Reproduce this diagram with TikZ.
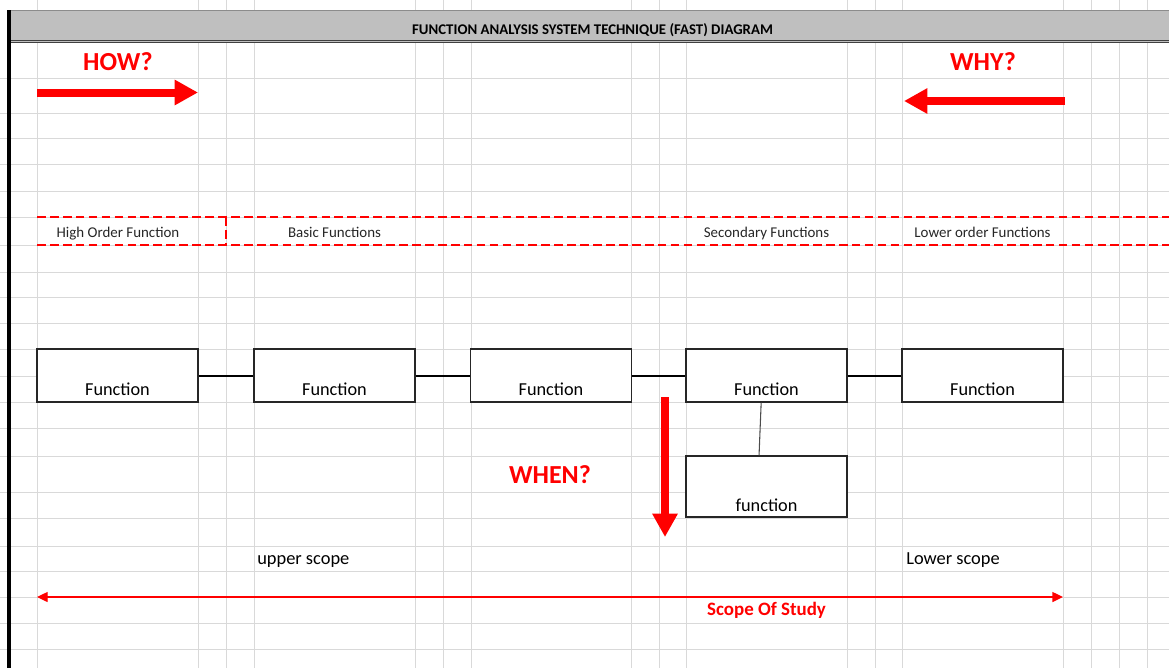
\documentclass[tikz,border=0pt]{standalone}
\usepackage{fontspec}
\setmainfont{Carlito}
\usetikzlibrary{arrows.meta}
\newcommand\fsz[1]{\fontsize{#1}{#1}\selectfont}
\tikzset{
	gridline/.style={draw=black!15, line width=0.75pt},
	funcbox/.style={draw=black!85, fill=white, line width=0.8pt, minimum width=120.75pt, inner xsep=0pt, inner ysep=0pt, text height=34.5pt, text depth=5.25pt, font=\fsz{13.7pt}},
	link/.style={line width=1.5pt},
	bandline/.style={red, line width=1.5pt, dash pattern=on 6.5pt off 3.2pt},
	bandtext/.style={text=black!85, font=\fsz{11.2pt}, anchor=base},
	bigword/.style={text=red, font=\bfseries\fsz{19.5pt}},
	bigarrow/.style={red, line width=6pt, -{Triangle[length=17.5pt, width=18pt]}},
	scopearrow/.style={red, line width=1pt, {Triangle[length=8pt, width=7.5pt]}-{Triangle[length=8pt, width=7.5pt]}},
	scopetext/.style={font=\fsz{13.8pt}, anchor=base west, inner sep=0pt}
}

\begin{document}
\begin{tikzpicture}[x=0.75pt, y=-0.75pt]
			%%%%% START %%%%%
			\useasboundingbox (0,0) rectangle (1169,668);
			
			% sheet grid
			\foreach \gx in {37,198,226,254,415,443,471,631,659,686,847,875,902,1063,1091,1119,1147}
				\draw[gridline] (\gx,0) -- (\gx,668);
			\foreach \gy in {78,113,138,164,191,217,245,272,297,323,349,376,402,428,456,492,518,546,571,597,623,649}
				\draw[gridline] (0,\gy) -- (1169,\gy);
			
			% title bar
			\fill[black!25] (10,10) rectangle (1169,42);
			\draw[black!45, line width=0.75pt] (10,10) -- (1169,10);
			\draw[black!75, line width=0.8pt] (10,40.3) -- (1169,40.3);
			\draw[black!75, line width=0.8pt] (10,42.7) -- (1169,42.7);
			\node[font=\bfseries\fsz{11.1pt}] (title) at (592.5,30.5) {FUNCTION ANALYSIS SYSTEM TECHNIQUE (FAST) DIAGRAM};
			\draw[line width=2.8pt] (9,10) -- (9,668);
			
			% how / why
			\node[bigword] (how) at (118,62) {HOW?};
			\coordinate (howA) at (37,92.5);
			\coordinate (howB) at (198,92.5);
			\draw[bigarrow] (howA) -- (howB);
			
			\node[bigword] (why) at (983,62) {WHY?};
			\coordinate (whyA) at (1065,101);
			\coordinate (whyB) at (904,101);
			\draw[bigarrow] (whyA) -- (whyB);
			
			% function levels
			\draw[bandline] (37,217) -- (1169,217);
			\draw[bandline] (37,245) -- (1169,245);
			\draw[bandline] (226,217) -- (226,245);
			\node[bandtext] (high) at (118,237.5) {High Order Function};
			\node[bandtext] (basic) at (334.5,237.5) {Basic Functions};
			\node[bandtext] (second) at (766.5,237.5) {Secondary Functions};
			\node[bandtext] (lower) at (982.5,237.5) {Lower order Functions};
			
			% functions
			\node[funcbox] (f1) at (117.5,375.5) {Function};
			\node[funcbox] (f2) at (334.5,375.5) {Function};
			\node[funcbox] (f3) at (551,375.5) {Function};
			\node[funcbox] (f4) at (766.5,375.5) {Function};
			\node[funcbox] (f5) at (982.5,375.5) {Function};
			\node[funcbox, text height=41.25pt, text depth=4.5pt] (f6) at (766.5,486.5) {function};
			
			\draw[link] (f1) -- (f2);
			\draw[link] (f2) -- (f3);
			\draw[link] (f3) -- (f4);
			\draw[link] (f4) -- (f5);
			\draw[black!70, line width=0.8pt] ([xshift=-4pt]f4.south) -- ([xshift=-5.6pt]f6.north);
			
			% when
			\node[bigword] (when) at (550,475) {WHEN?};
			\coordinate (whenA) at (665,397);
			\coordinate (whenB) at (665,537);
			\draw[bigarrow] (whenA) -- (whenB);
			
			% scope
			\node[scopetext] (upper) at (257,564) {upper scope};
			\node[scopetext] (lowscope) at (906,564) {Lower scope};
			\coordinate (scA) at (37,597);
			\coordinate (scB) at (1063,597);
			\draw[scopearrow] (scA) -- (scB);
			\node[text=red, font=\bfseries\fsz{14.2pt}, anchor=base] (study) at (766.5,615.5) {Scope Of Study};
			
			%%%%% END %%%%%
		\end{tikzpicture}
\end{document}
